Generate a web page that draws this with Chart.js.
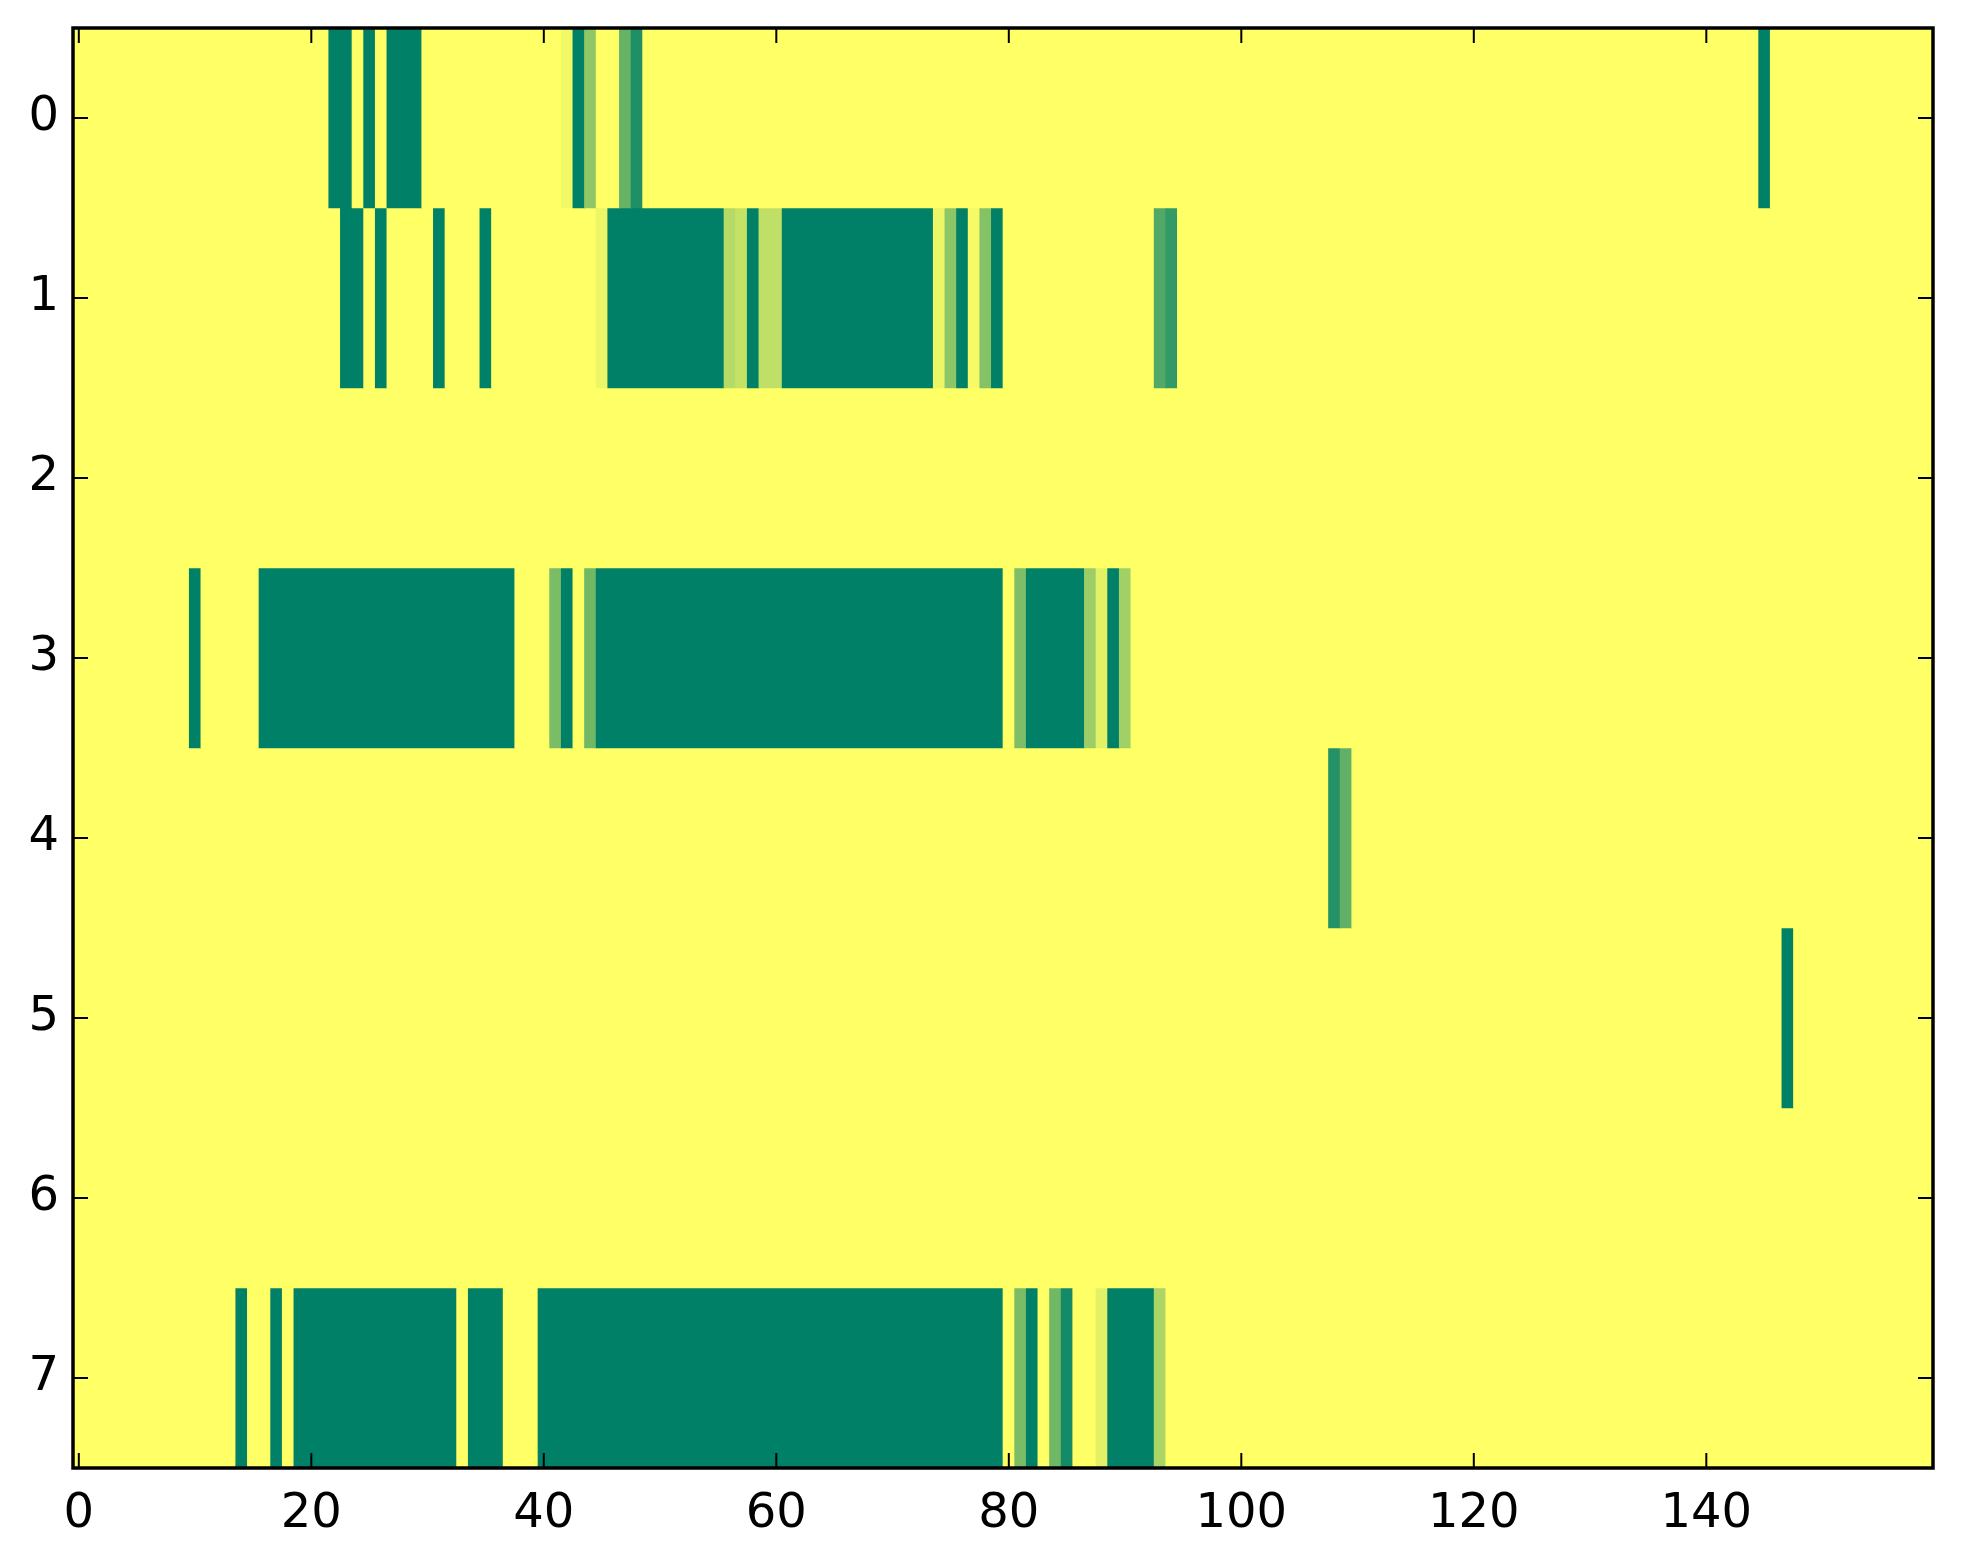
<!doctype html>
<html lang="en">
<head>
    <meta charset="UTF-8">
    <title>Heatmap</title>
    <script src="https://cdn.jsdelivr.net/npm/chart.js@4.4.1/dist/chart.umd.min.js"></script>
    <style>
        *, ::before, ::after {
            margin: 0;
            padding: 0;
            box-sizing: border-box;
        }

        body {
            background: #fff;
        }

        .container {
            width: 1963px;
            height: 1564px;
        }
    </style>
</head>
<body>
<div class="container">
    <canvas id="canvas" width="1963" height="1564"></canvas>
</div>

<script>
    // Row labels (y axis) and number of columns
    const rowLabels = ["0", "1", "2", "3", "4", "5", "6", "7"];
    const nCols = 160;
    const xTicks = [0, 20, 40, 60, 80, 100, 120, 140];

    // Non-zero cells of each row, as runs: [first column, last column, value]
    const row0 = [[22, 23, 1], [25, 25, 1], [27, 29, 1], [42, 42, 0.05], [43, 43, 1], [44, 44, 0.44],
        [47, 47, 0.6], [48, 48, 0.88], [145, 145, 1]];
    const row1 = [[23, 24, 1], [26, 26, 1], [31, 31, 1], [35, 35, 1], [45, 45, 0.07], [46, 55, 1],
        [56, 56, 0.29], [57, 57, 0.23], [58, 58, 1], [59, 60, 0.25], [61, 73, 1], [74, 74, 0.07],
        [75, 75, 0.45], [76, 76, 1], [77, 77, 0.04], [78, 78, 0.48], [79, 79, 1], [93, 93, 0.68], [94, 94, 0.8]];
    const row2 = [];
    const row3 = [[10, 10, 1], [16, 37, 1], [41, 41, 0.52], [42, 42, 1], [44, 44, 0.56], [45, 79, 1],
        [81, 81, 0.51], [82, 86, 1], [87, 87, 0.39], [88, 88, 0.11], [89, 89, 1], [90, 90, 0.37]];
    const row4 = [[108, 108, 0.86], [109, 109, 0.62]];
    const row5 = [[147, 147, 1]];
    const row6 = [];
    const row7 = [[14, 14, 1], [17, 17, 1], [19, 32, 1], [34, 36, 1], [40, 79, 1], [81, 81, 0.52],
        [82, 82, 1], [84, 84, 0.56], [85, 85, 0.92], [88, 88, 0.11], [89, 92, 1], [93, 93, 0.33]];
    const rows = [row0, row1, row2, row3, row4, row5, row6, row7];

    // summer_r colormap: 0 -> yellow, 1 -> green
    function summerR(v) {
        const r = Math.round(255 * (1 - v));
        const g = Math.round(255 * (1 - 0.5 * v));
        return "rgb(" + r + "," + g + ",102)";
    }

    // One dataset per row, zero gaps filled in between the runs
    const datasets = rows.map((runs, r) => {
        const points = [];
        let col = 0;
        runs.forEach(([a, b, v]) => {
            if (a > col) points.push({x: [col - 0.5, a - 0.5], y: rowLabels[r], v: 0});
            points.push({x: [a - 0.5, b + 0.5], y: rowLabels[r], v: v});
            col = b + 1;
        });
        if (col < nCols) points.push({x: [col - 0.5, nCols - 0.5], y: rowLabels[r], v: 0});
        return {
            label: "row " + r,
            data: points,
            backgroundColor: points.map((p) => summerR(p.v)),
            borderWidth: 0,
            barPercentage: 1,
            categoryPercentage: 1,
            grouped: false,
        };
    });

    // Background fill, frame and inward tick marks like matplotlib classic
    const frame = {
        id: "frame",
        beforeDatasetsDraw(chart) {
            const {ctx, chartArea: a} = chart;
            ctx.save();
            ctx.fillStyle = summerR(0);
            ctx.fillRect(a.left, a.top, a.right - a.left, a.bottom - a.top);
            ctx.restore();
        },
        afterDatasetsDraw(chart) {
            const {ctx, chartArea: a, scales} = chart;
            ctx.save();
            ctx.strokeStyle = "#000";
            ctx.lineWidth = 2;
            ctx.beginPath();
            xTicks.forEach((t) => {
                const px = scales.x.getPixelForValue(t);
                ctx.moveTo(px, a.bottom);
                ctx.lineTo(px, a.bottom - 15);
                ctx.moveTo(px, a.top);
                ctx.lineTo(px, a.top + 15);
            });
            rowLabels.forEach((l, i) => {
                const py = scales.y.getPixelForValue(i);
                ctx.moveTo(a.left, py);
                ctx.lineTo(a.left + 15, py);
                ctx.moveTo(a.right, py);
                ctx.lineTo(a.right - 15, py);
            });
            ctx.stroke();
            ctx.lineWidth = 3.5;
            ctx.strokeRect(a.left, a.top, a.right - a.left, a.bottom - a.top);
            ctx.restore();
        },
    };

    const tickFont = {family: "'DejaVu Sans', sans-serif", size: 48};

    new Chart(document.getElementById("canvas"), {
        type: "bar",
        data: {labels: rowLabels, datasets: datasets},
        plugins: [frame],
        options: {
            indexAxis: "y",
            responsive: false,
            animation: false,
            devicePixelRatio: 1,
            layout: {padding: {top: 28, right: 30, left: 0, bottom: 0}},
            plugins: {
                legend: {display: false},
                tooltip: {enabled: false},
            },
            scales: {
                x: {
                    type: "linear",
                    position: "bottom",
                    min: -0.5,
                    max: nCols - 0.5,
                    grid: {display: false},
                    border: {display: false},
                    ticks: {
                        font: tickFont,
                        color: "#000",
                        padding: 10,
                        maxRotation: 0,
                        autoSkip: false,
                        callback: (v) => String(v),
                    },
                    afterBuildTicks: (s) => {
                        s.ticks = xTicks.map((v) => ({value: v}));
                    },
                    afterFit: (s) => {
                        s.height = 96;
                        s.paddingLeft = 0;
                        s.paddingRight = 0;
                    },
                },
                y: {
                    type: "category",
                    offset: true,
                    grid: {display: false},
                    border: {display: false},
                    ticks: {
                        font: tickFont,
                        color: "#000",
                        padding: 6,
                    },
                    afterFit: (s) => {
                        s.width = 73;
                        s.paddingTop = 0;
                        s.paddingBottom = 0;
                    },
                },
            },
        },
    });
</script>
</body>
</html>
